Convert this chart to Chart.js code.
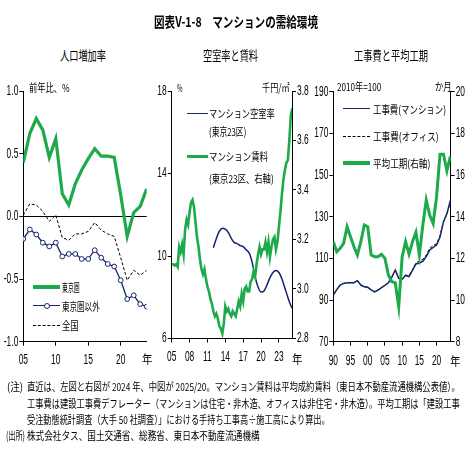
<!DOCTYPE html>
<html><head><meta charset="utf-8">
<script src="https://cdn.jsdelivr.net/npm/chart.js@4.4.1/dist/chart.umd.min.js"></script>
<style>
html,body{margin:0;padding:0;background:#fff;width:471px;height:471px;overflow:hidden;position:relative;}
.t{position:absolute;white-space:nowrap;font-family:"Noto Sans CJK JP",sans-serif;color:#000;line-height:1;transform-origin:0 50%;}
.ln{position:absolute;height:0;}
canvas{position:absolute;}
</style></head><body>
<canvas id="c1" width="165" height="285" style="left:0px;top:80px;width:165px;height:285px"></canvas>
<canvas id="c2" width="170" height="285" style="left:150px;top:80px;width:170px;height:285px"></canvas>
<canvas id="c3" width="166" height="285" style="left:305px;top:80px;width:166px;height:285px"></canvas>
<script>
// ---------- Panel 1: population growth ----------
const popYears = [2005,2006,2007,2008,2009,2010,2011,2012,2013,2014,2015,2016,2017,2018,2019,2020,2021,2022,2023,2024];
const tokyoArea = [0.43,0.66,0.78,0.69,0.47,0.62,0.18,0.09,0.26,0.37,0.46,0.54,0.48,0.48,0.47,0.17,-0.16,0.03,0.08,0.22];
const outsideTokyo = [-0.18,-0.105,-0.145,-0.21,-0.24,-0.21,-0.32,-0.30,-0.30,-0.34,-0.34,-0.27,-0.33,-0.38,-0.40,-0.51,-0.66,-0.63,-0.70,-0.72];
const nationwide = [0.01,0.10,0.09,0.04,-0.04,0.01,-0.17,-0.19,-0.14,-0.14,-0.12,-0.05,-0.11,-0.14,-0.16,-0.33,-0.51,-0.43,-0.47,-0.43];
const p1XTicks = [2005,2010,2015,2020];
const p1YTicks = [-1,-0.5,0,0.5,1];

// ---------- Panel 2: vacancy and rent ----------
const vacancyX = [2012.0,2012.5,2013.0,2013.5,2014.0,2014.5,2015.0,2015.5,2016.0,2016.5,2017.0,2017.5,2018.0,2018.5,2019.0,2019.5,2020.0,2020.5,2021.0,2021.5,2022.0,2022.5,2023.0,2023.5,2024.0,2024.5,2025.0,2025.3];
const vacancyRate = [10.4,10.85,11.2,11.35,11.3,11.15,10.85,10.65,10.6,10.5,10.45,10.3,10.15,9.7,9.0,8.5,8.25,8.3,8.6,8.95,9.2,9.3,9.2,8.9,8.45,8.0,7.6,7.45];
const rentX = [2005.0,2005.25,2005.5,2005.75,2006.0,2006.25,2006.5,2006.75,2007.0,2007.25,2007.5,2007.75,2008.0,2008.25,2008.5,2008.75,2009.0,2009.25,2009.5,2009.75,2010.0,2010.25,2010.5,2010.75,2011.0,2011.25,2011.5,2011.75,2012.0,2012.25,2012.5,2012.75,2013.0,2013.25,2013.5,2013.75,2014.0,2014.25,2014.5,2014.75,2015.0,2015.25,2015.5,2015.75,2016.0,2016.25,2016.5,2016.75,2017.0,2017.25,2017.5,2017.75,2018.0,2018.25,2018.5,2018.75,2019.0,2019.25,2019.5,2019.75,2020.0,2020.25,2020.5,2020.75,2021.0,2021.25,2021.5,2021.75,2022.0,2022.25,2022.5,2022.75,2023.0,2023.25,2023.5,2023.75,2024.0,2024.25,2024.5,2024.75,2025.0,2025.25];
const rent = [3.10,3.10,3.095,3.10,3.09,3.17,3.15,3.18,3.14,3.24,3.28,3.26,3.31,3.35,3.36,3.33,3.27,3.21,3.17,3.12,3.08,3.06,3.08,3.04,3.01,2.99,2.96,2.94,2.91,2.89,2.90,2.88,2.85,2.84,2.82,2.86,2.93,2.91,2.92,2.90,2.89,2.91,2.90,2.89,2.92,2.95,2.93,2.98,2.95,3.00,3.01,2.99,2.99,3.03,3.04,3.07,3.05,3.10,3.14,3.17,3.14,3.16,3.16,3.19,3.15,3.19,3.13,3.17,3.20,3.21,3.16,3.19,3.25,3.31,3.38,3.44,3.48,3.51,3.52,3.60,3.70,3.73];
const p2XTicks = [2005,2008,2011,2014,2017,2020,2023];
const p2LeftTicks = [6,10,14,18];
const p2RightTicks = [2.8,3.0,3.2,3.4,3.6,3.8];

// ---------- Panel 3: construction cost and duration ----------
const costYears = [1990,1991,1992,1993,1994,1995,1996,1997,1998,1999,2000,2001,2002,2003,2004,2005,2006,2007,2008,2009,2010,2011,2012,2013,2014,2015,2016,2017,2018,2019,2020,2021,2022,2023,2024];
const costCondo = [92.4,95.0,97.2,98.0,98.3,98.3,98.3,99.3,97.2,96.4,96.1,94.9,93.9,94.8,96.0,97.0,98.3,101.0,104.4,100.4,100.0,101.8,101.3,104.2,107.3,107.8,108.6,110.8,114.0,115.3,116.4,120.2,127.5,131.5,137.8];
const costOffice = [92.4,95.0,97.2,98.0,98.3,98.3,98.3,99.3,97.2,96.4,96.1,94.9,93.9,94.8,96.0,97.0,98.3,101.0,104.4,100.4,100.0,102.0,101.6,104.6,107.8,108.6,109.6,111.6,114.8,116.2,117.0,121.0,127.8,131.2,137.0];
const avgDuration = [12.8,12.32,12.48,12.72,13.52,13.04,12.56,12.16,12.8,13.6,13.52,12.16,12.08,12.08,12.2,12.0,11.2,10.88,10.83,9.68,12.08,12.8,12.2,12.8,13.25,12.16,13.6,14.8,14.08,13.68,14.96,17.0,17.0,16.2,16.9];
const p3XTicks = [1990,1995,2000,2005,2010,2015,2020];
const p3LeftTicks = [70,90,110,130,150,170,190];
const p3RightTicks = [8,10,12,14,16,18,20];

const GREEN = '#1daa4b';
const NAVY = '#13266b';
const NUMFONT = "'Liberation Sans',Arial,sans-serif";
const LABEL_SX = 0.6;

// condensed tick labels: scale glyphs horizontally around their anchor point
function condense(id){
  const ctx = document.getElementById(id).getContext('2d');
  const orig = ctx.fillText.bind(ctx);
  ctx.fillText = function(text, x, y, maxW){
    ctx.save(); ctx.translate(x, y); ctx.scale(LABEL_SX, 1); orig(text, 0, 0); ctx.restore();
  };
}
['c1','c2','c3'].forEach(condense);

function pts(xs, ys){ return xs.map((x,i)=>({x:x, y:ys[i]})); }
function setTicks(arr){ return function(s){ s.ticks = arr.map(v=>({value:v})); }; }
function fixW(w){ return function(s){ s.width = w; }; }
function fixH(h){ return function(s){ s.height = h; }; }
function yy(v){ return String(v).slice(2); }

function axis(common, tickExtra){
  return Object.assign({
    border:{display:true,color:'#000',width:1},
    grid:{display:true,drawOnChartArea:false,color:'#000',tickColor:'#000',tickLength:4,lineWidth:1},
    ticks:Object.assign({color:'#000',font:{family:NUMFONT,size:14},autoSkip:false,maxRotation:0,padding:2}, tickExtra||{})
  }, common);
}

Chart.defaults.animation = false;
Chart.defaults.events = [];

// Panel 1
new Chart(document.getElementById('c1'), {
  type:'line',
  data:{datasets:[
    {data:pts(popYears,tokyoArea), borderColor:GREEN, borderWidth:3.2, pointRadius:0, tension:0},
    {data:pts(popYears,nationwide), borderColor:'#000', borderWidth:1, borderDash:[3,2], pointRadius:0, tension:0},
    {data:pts(popYears,outsideTokyo), borderColor:NAVY, borderWidth:1.3, pointRadius:2.4, pointBackgroundColor:'#fff', pointBorderColor:NAVY, pointBorderWidth:1, tension:0}
  ]},
  options:{
    responsive:false, maintainAspectRatio:false,
    layout:{padding:{left:0,right:18.3,top:11,bottom:0}},
    plugins:{legend:{display:false},tooltip:{enabled:false}},
    scales:{
      x: axis({type:'linear',min:2005,max:2024,afterBuildTicks:setTicks(p1XTicks),afterFit:fixH(23.3)},{padding:6,callback:(v)=>yy(v)}),
      y: axis({type:'linear',min:-1,max:1,afterBuildTicks:setTicks(p1YTicks),afterFit:fixW(23.3),
        grid:{display:true,drawOnChartArea:true,color:(c)=>c.tick && c.tick.value===0?'#000':'rgba(0,0,0,0)',tickColor:'#000',tickLength:4,lineWidth:1}},
        {padding:1,callback:(v)=>v.toFixed(1)})
    }
  }
});

// Panel 2
new Chart(document.getElementById('c2'), {
  type:'line',
  data:{datasets:[
    {data:pts(rentX,rent), yAxisID:'y2', borderColor:GREEN, borderWidth:2.6, pointRadius:0, tension:0},
    {data:pts(vacancyX,vacancyRate), yAxisID:'y', borderColor:NAVY, borderWidth:1.5, pointRadius:0, cubicInterpolationMode:'monotone'}
  ]},
  options:{
    responsive:false, maintainAspectRatio:false,
    layout:{padding:{left:0,right:0,top:11,bottom:0}},
    plugins:{legend:{display:false},tooltip:{enabled:false}},
    scales:{
      x: axis({type:'linear',min:2005,max:2025.2,afterBuildTicks:setTicks(p2XTicks),afterFit:fixH(26.5)},{padding:6,callback:(v)=>yy(v)}),
      y: axis({type:'linear',position:'left',min:6,max:18,afterBuildTicks:setTicks(p2LeftTicks),afterFit:fixW(21.7)},{padding:1}),
      y2: axis({type:'linear',position:'right',min:2.8,max:3.8,afterBuildTicks:setTicks(p2RightTicks),afterFit:fixW(28)},{padding:1,callback:(v)=>v.toFixed(1)})
    }
  }
});

// Panel 3
new Chart(document.getElementById('c3'), {
  type:'line',
  data:{datasets:[
    {data:pts(costYears,avgDuration), yAxisID:'y2', borderColor:GREEN, borderWidth:3, pointRadius:0, tension:0},
    {data:pts(costYears,costCondo), yAxisID:'y', borderColor:NAVY, borderWidth:1.5, pointRadius:0, tension:0},
    {data:pts(costYears,costOffice), yAxisID:'y', borderColor:'#000', borderWidth:1, borderDash:[3,2], pointRadius:0, tension:0}
  ]},
  options:{
    responsive:false, maintainAspectRatio:false,
    layout:{padding:{left:0,right:0,top:11.7,bottom:0}},
    plugins:{legend:{display:false},tooltip:{enabled:false}},
    scales:{
      x: axis({type:'linear',min:1990,max:2024.1,afterBuildTicks:setTicks(p3XTicks),afterFit:fixH(23.3)},{padding:7,callback:(v)=>yy(v)}),
      y: axis({type:'linear',position:'left',min:70,max:190,afterBuildTicks:setTicks(p3LeftTicks),afterFit:fixW(28.3)},{padding:1}),
      y2: axis({type:'linear',position:'right',min:8,max:20,afterBuildTicks:setTicks(p3RightTicks),afterFit:fixW(20.3)},{padding:1})
    }
  }
});

// ---------- Texts ----------
function T(s,x,y,w,size,opts){
  opts = opts||{};
  const d=document.createElement('div'); d.className='t'; d.textContent=s;
  d.style.fontSize=size+'px'; d.style.left=x+'px'; d.style.top=(y-size/2)+'px';
  if(opts.bold) d.style.fontWeight='bold';
  if(opts.font) d.style.fontFamily=opts.font;
  document.body.appendChild(d);
  if(w){ const nat=d.getBoundingClientRect().width; d.style.transform='scaleX('+(w/nat)+')'; }
  return d;
}
function L(x1,x2,y,color,width,style){
  const d=document.createElement('div'); d.className='ln';
  d.style.left=x1+'px'; d.style.width=(x2-x1)+'px'; d.style.top=(y-width/2)+'px';
  d.style.borderTop=width+'px '+(style||'solid')+' '+color;
  document.body.appendChild(d);
}
function C(x,y,r,color){
  const d=document.createElement('div'); d.style.position='absolute';
  d.style.left=(x-r)+'px'; d.style.top=(y-r)+'px'; d.style.width=(2*r-2)+'px'; d.style.height=(2*r-2)+'px';
  d.style.border='1px solid '+color; d.style.borderRadius='50%'; d.style.background='#fff';
  document.body.appendChild(d);
}

T('図表V-1-8　マンションの需給環境',154,21,164,14,{bold:true});
T('人口増加率',60,54,46,13);
T('空室率と賃料',203.3,54,55,13);
T('工事費と平均工期',354.3,54,74,13);

T('前年比、%',29.3,87.5,40.7,11);
T('%',176.5,87,5.5,11);
T('千円/㎡',261.7,87,27.6,11);
T('2010年=100',336.7,86,44.3,11);
T('か月',435,86,16.7,11);

T('年',141.5,359,10.5,12);
T('年',292,359,10.5,12);
T('年',450,361,10.5,12);

// legends
L(33,60,287.3,GREEN,4);
T('東京圏',62.3,287.3,17.7,11);
L(33,60,306,NAVY,1.5);
C(46.5,306,3,NAVY);
T('東京圏以外',62.3,306,37.7,11);
L(33,60,325,'#000',1,'dashed');
T('全国',62.3,325,16.7,11);

L(186.7,208.3,113.3,NAVY,1.5);
T('マンション空室率',209.3,113.3,65.7,11);
T('(東京23区)',209.3,131.7,37.3,11);
L(186.7,208.3,156.7,GREEN,3.5);
T('マンション賃料',209.3,156.7,59,11);
T('(東京23区、右軸)',209.3,178.3,64.7,11);

L(343.3,370,108.3,NAVY,1.5);
T('工事費(マンション)',372.7,109,73,11);
L(343.3,370,136.7,'#000',1,'dashed');
T('工事費(オフィス)',372.7,136.7,65.7,11);
L(343.3,370,162.7,GREEN,4);
T('平均工期(右軸)',372.7,163.3,57.3,11);

// notes
T('(注)',6.7,386,16,11);
T('直近は、左図と右図が 2024 年、中図が 2025/20。マンション賃料は平均成約賃料（東日本不動産流通機構公表値）。',27.3,386,432.7,11);
T('工事費は建設工事費デフレーター（マンションは住宅・非木造、オフィスは非住宅・非木造）。平均工期は「建設工事',27.3,403.3,432.7,11);
T('受注動態統計調査（大手 50 社調査）」における手持ち工事高÷施工高により算出。',27.3,419.5,302.7,11);
T('(出所)',6,435.5,19,11);
T('株式会社タス、国土交通省、総務省、東日本不動産流通機構',27.3,435.5,232.7,11);
</script>
</body></html>
